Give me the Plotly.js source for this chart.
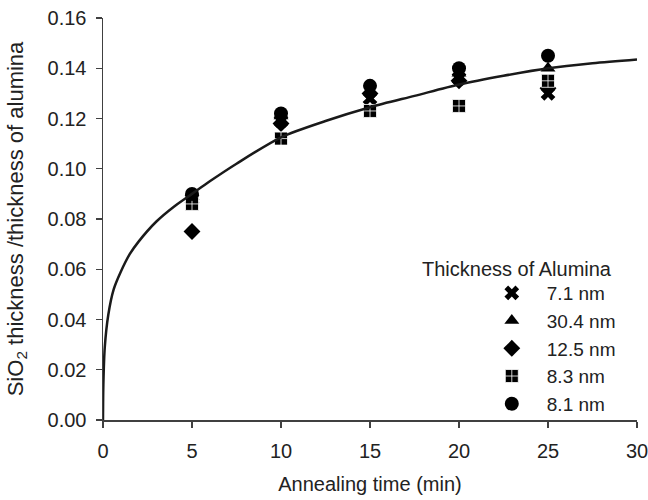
<!DOCTYPE html>
<html>
<head>
<meta charset="utf-8">
<script src="https://cdn.plot.ly/plotly-3.0.1.min.js"></script>
<style>html,body{margin:0;padding:0;background:#fff;}#chart{width:648px;height:500px;}</style>
</head>
<body>
<div id="chart"></div>
<script>
// Data
const times = [5, 10, 15, 20, 25];
const seriesNames = ['7.1 nm', '30.4 nm', '12.5 nm', '8.3 nm', '8.1 nm'];
const s71  = [0.088, 0.119, 0.128, 0.136, 0.130];
const s304 = [0.089, 0.121, 0.131, 0.138, 0.140];
const s125 = [0.075, 0.118, 0.130, 0.135, 0.132];
const s83  = [0.086, 0.112, 0.123, 0.125, 0.135];
const s81  = [0.090, 0.122, 0.133, 0.140, 0.145];
// fitted curve
const curveT = [0, 0.02, 0.1, 0.3, 0.6, 1, 1.5, 2, 3, 4, 5, 6, 7.5, 10, 12.5, 15, 17.5, 20, 22.5, 25, 27.5, 30];
const curveY = [0, 0.014, 0.029, 0.042, 0.052, 0.059, 0.066, 0.071, 0.079, 0.085, 0.090, 0.095, 0.102, 0.1125, 0.119, 0.1245, 0.129, 0.1335, 0.137, 0.140, 0.142, 0.1435];
const xTicks = [0, 5, 10, 15, 20, 25, 30];
const yTicks = [0, 0.02, 0.04, 0.06, 0.08, 0.10, 0.12, 0.14, 0.16];

const values = [s71, s304, s125, s83, s81];
const symbols = ['x', 'triangle-up', 'diamond', 'square-cross', 'circle'];
const sizes = [13, 13, 13, 13, 14];

const FONT = 'Liberation Sans, Arial, sans-serif';
const FS = 20;
const traces = values.map((v, i) => ({
  type: 'scatter', mode: 'markers', x: times, y: v, name: seriesNames[i],
  marker: {
    symbol: symbols[i], size: sizes[i], color: '#000',
    line: symbols[i] === 'square-cross' ? {color: '#fff', width: 0.8} : {width: 0}
  }
}));
traces.push({
  type: 'scatter', mode: 'lines', x: curveT, y: curveY, showlegend: false,
  line: {color: '#1a1a1a', width: 2.5, shape: 'spline', smoothing: 0.8},
  hoverinfo: 'skip'
});

const axisCommon = {
  showline: true, linecolor: '#404040', linewidth: 1.5,
  ticks: 'outside', ticklen: 6, tickwidth: 1.2, tickcolor: '#404040',
  showgrid: false, zeroline: false, ticklabeloverflow: 'allow',
  tickfont: {family: FONT, size: FS, color: '#222'}
};

const layout = {
  width: 648, height: 500,
  margin: {l: 103, r: 11, t: 18, b: 80},
  paper_bgcolor: '#fff', plot_bgcolor: '#fff',
  font: {family: FONT, size: FS, color: '#222'},
  xaxis: Object.assign({}, axisCommon, {
    range: [0, 30], tickvals: xTicks, ticktext: xTicks.map(String), ticklabelstandoff: 6,
    title: {text: 'Annealing time (min)', font: {family: FONT, size: FS, color: '#222'}, standoff: 16}
  }),
  yaxis: Object.assign({}, axisCommon, {
    range: [0, 0.16], tickvals: yTicks, ticktext: yTicks.map(v => v.toFixed(2)), ticklabelstandoff: 5,
    title: {text: 'SiO<sub>2</sub> thickness /thickness of alumina', font: {family: FONT, size: 22, color: '#222'}, standoff: 18}
  }),
  showlegend: true,
  legend: {
    x: 0.70, xanchor: 'left', y: 0.363, yanchor: 'top',
    bgcolor: 'rgba(0,0,0,0)', borderwidth: 0,
    font: {family: FONT, size: 19, color: '#222'},
    itemwidth: 60, tracegroupgap: 0
  },
  annotations: [{
    text: 'Thickness of Alumina', xref: 'paper', yref: 'paper',
    x: (420 - 103) / 534, y: (420 - 269) / 402, xanchor: 'left', yanchor: 'middle',
    showarrow: false, font: {family: FONT, size: FS, color: '#222'}
  }]
};

Plotly.newPlot('chart', traces, layout, {displayModeBar: false, staticPlot: true});
</script>
</body>
</html>
